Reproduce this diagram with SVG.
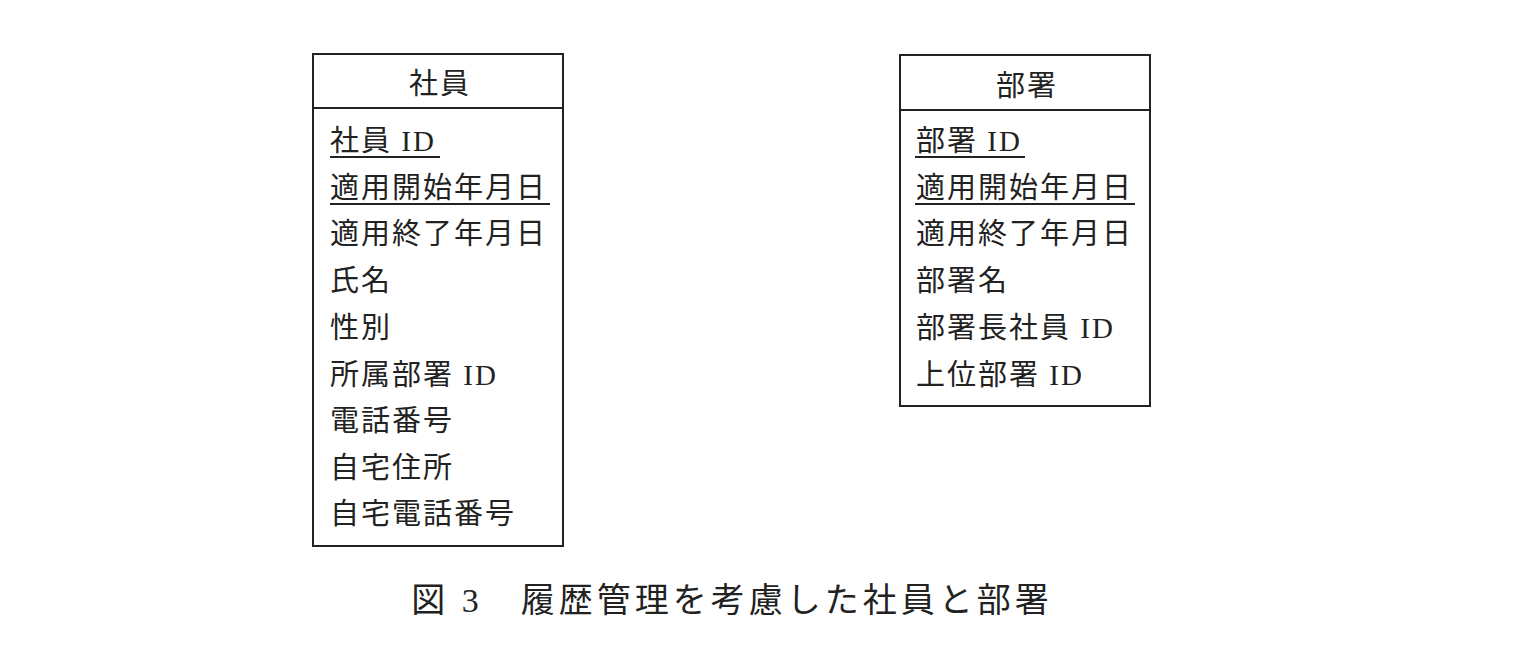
<svg xmlns="http://www.w3.org/2000/svg" width="1524" height="668" viewBox="0 0 1524 668">
<style>
.box{fill:#fff;stroke:#222;stroke-width:2}
.ln{stroke:#222;stroke-width:2}
text{font-family:"Liberation Serif","Noto Sans CJK JP",serif;font-size:29px;letter-spacing:2px;fill:#222}
.h{text-anchor:middle}
.cap{font-size:34px;letter-spacing:4px;text-anchor:middle}
</style>
<rect width="1524" height="668" fill="#fff"/>
<g id="shain">
<rect class="box" x="313" y="54" width="250" height="492"/>
<line class="ln" x1="313" y1="108" x2="563" y2="108"/>
<text class="h" x="440" y="94">社員</text>
<text x="330" y="151">社員 ID</text>
<line class="ln" x1="330" y1="157" x2="440" y2="157"/>
<text x="330" y="198">適用開始年月日</text>
<line class="ln" x1="330" y1="204" x2="550" y2="204"/>
<text x="330" y="244">適用終了年月日</text>
<text x="330" y="291">氏名</text>
<text x="330" y="338">性別</text>
<text x="330" y="385">所属部署 ID</text>
<text x="330" y="431">電話番号</text>
<text x="330" y="478">自宅住所</text>
<text x="330" y="524">自宅電話番号</text>
</g>
<g id="busho">
<rect class="box" x="900" y="55" width="250" height="351"/>
<line class="ln" x1="900" y1="110" x2="1150" y2="110"/>
<text class="h" x="1027" y="96">部署</text>
<text x="916" y="151">部署 ID</text>
<line class="ln" x1="915" y1="157" x2="1025" y2="157"/>
<text x="916" y="198">適用開始年月日</text>
<line class="ln" x1="915" y1="204" x2="1135" y2="204"/>
<text x="916" y="244">適用終了年月日</text>
<text x="916" y="291">部署名</text>
<text x="916" y="338">部署長社員 ID</text>
<text x="916" y="385">上位部署 ID</text>
</g>
<g id="connectors"></g>
<text class="cap" x="732" y="612">図 3　履歴管理を考慮した社員と部署</text>
</svg>
